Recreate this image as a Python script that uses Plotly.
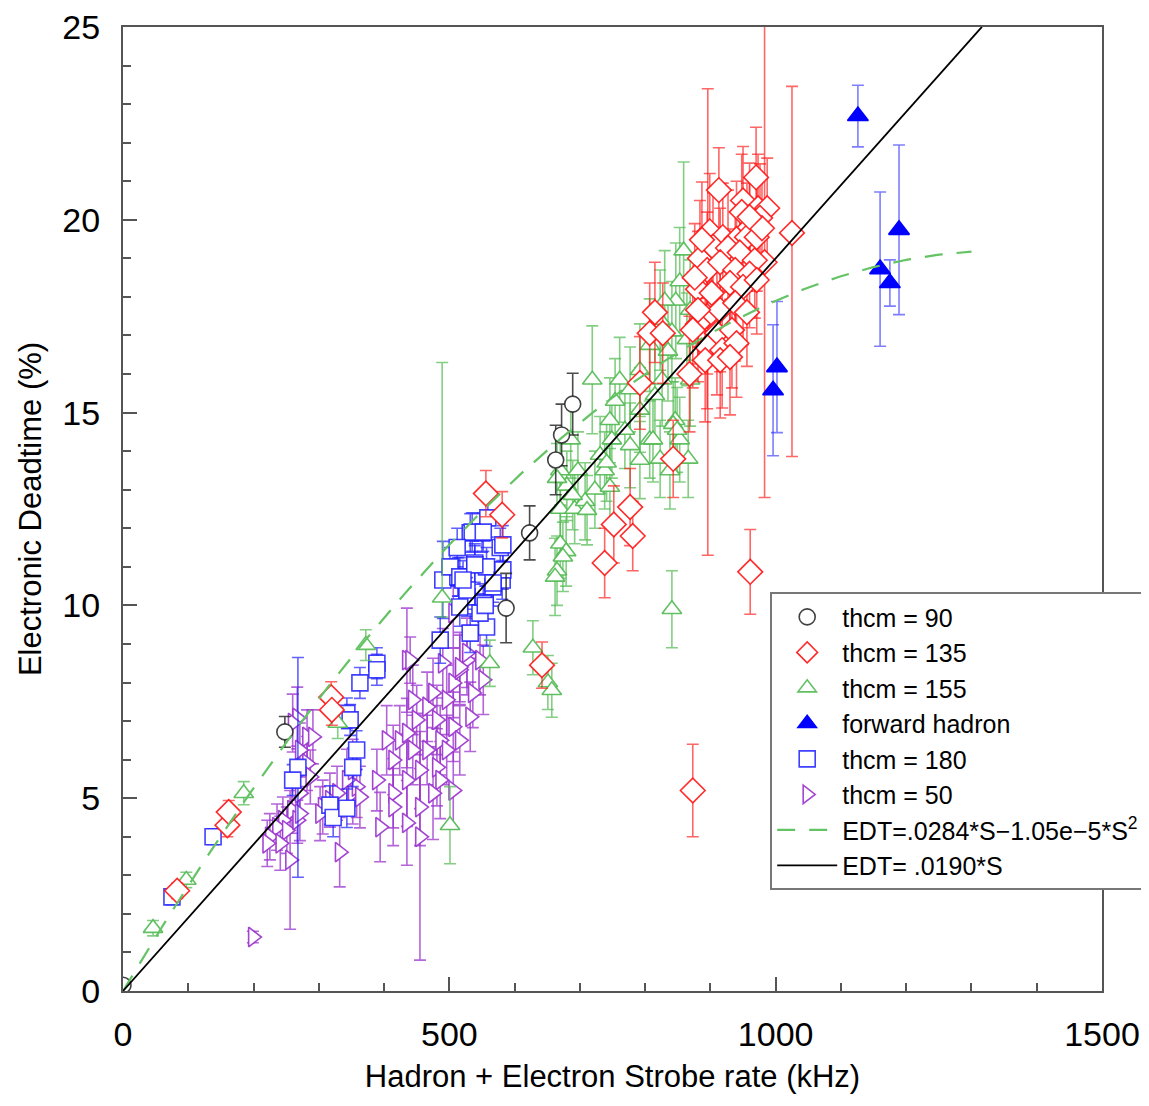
import numpy as np
import plotly.graph_objects as go

# ---------------- data ----------------
# thcm = 90 (black open circles)
x90 = [0, 248, 587, 623, 663, 672, 689]
y90 = [0.15, 6.72, 9.93, 11.88, 13.77, 14.42, 15.22]
e90 = [0.05, 0.4, 0.9, 0.7, 0.9, 0.8, 0.8]

# thcm = 135 (red open diamonds)
x135 = [83, 160, 162, 319, 320, 556, 581, 642, 738, 752, 777, 781, 843, 961, 873,
        1025, 983, 896, 807, 815, 827, 792, 868,
        913, 970, 950, 973, 987, 948, 960, 976, 899, 919, 940, 956, 884, 904, 927,
        945, 968, 895, 915, 938, 960, 881, 902, 930, 950, 971, 895, 915, 938, 956,
        881, 910, 933, 895, 918, 940, 892, 915, 930, 881, 873, 876, 887, 971, 979, 960]
y135 = [2.6, 4.3, 4.64, 7.62, 7.29, 12.9, 12.35, 8.45, 11.1, 12.1, 12.55, 11.8, 13.8, 10.87, 5.2,
        19.66, 18.9, 17.4, 17.06, 17.6, 17.06, 15.77, 16.0,
        20.77, 21.1, 20.5, 20.3, 20.3, 20.2, 19.8, 20.05, 19.7, 19.55, 19.5, 19.55, 19.0, 19.3, 19.27,
        19.15, 18.95, 18.7, 18.9, 18.7, 18.6, 18.2, 18.1, 18.36, 18.26, 18.44, 17.5, 17.66, 17.84, 17.6,
        17.3, 17.06, 17.14, 16.7, 16.62, 16.8, 16.36, 16.36, 16.44, 17.66, 17.14, 18.5, 19.48, 19.55, 19.78, 20.07]
e135_up = [0.2, 0.3, 0.3, 0.4, 0.4, 0.6, 0.6, 0.6, 0.9, 1.0, 1.0, 0.9, 1.0, 1.1, 1.2,
           3.8, 6.5, 6.0, 1.3, 1.3, 1.3, 1.2, 1.5,
           1.1, 1.3, 1.4, 1.4, 1.3, 1.5, 1.3, 1.4, 1.5, 1.4, 1.5, 1.4, 1.5, 1.4, 1.5,
           1.4, 1.5, 1.5, 1.4, 1.5, 1.4, 1.5, 1.5, 1.4, 1.5, 1.4, 1.5, 1.6, 1.5, 1.4,
           1.5, 1.6, 1.5, 1.6, 1.5, 1.4, 1.6, 1.5, 1.5, 1.4, 1.5, 1.4, 1.5, 1.4, 1.3, 1.4]
e135_dn = [0.2, 0.3, 0.3, 0.4, 0.4, 0.6, 0.6, 0.6, 0.9, 1.0, 1.0, 0.9, 1.0, 1.1, 1.2,
           5.8, 6.1, 6.1, 1.3, 1.3, 1.3, 1.2, 1.5,
           1.1, 1.3, 1.4, 1.4, 1.3, 1.5, 1.3, 1.4, 1.5, 1.4, 1.5, 1.4, 1.5, 1.4, 1.5,
           1.4, 1.5, 1.5, 1.4, 1.5, 1.4, 1.5, 1.5, 1.4, 1.5, 1.4, 1.5, 1.6, 1.5, 1.4,
           1.5, 1.6, 1.5, 1.6, 1.5, 1.4, 1.6, 1.5, 1.5, 1.4, 1.5, 1.4, 1.5, 1.4, 1.3, 1.4]

# thcm = 155 (green open triangles)
x155 = [46, 97, 185, 329, 372, 501, 489, 562, 628, 651, 657,
        670, 680, 670, 692, 670, 665, 679, 719, 731, 746, 754, 769, 777, 792, 807, 815,
        826, 835, 841, 847, 853, 859, 830, 823, 807, 792, 777, 761, 749, 738, 723, 708,
        697, 686, 846, 853, 866, 838, 823, 869, 869, 864, 841,
        662, 674, 665, 689, 711, 741, 746, 792, 812, 843, 849]
y155 = [1.63, 2.88, 5.13, 6.95, 8.97, 4.3, 10.2, 8.5, 8.9, 8.0, 7.8,
        13.5, 13.1, 12.5, 12.5, 11.6, 10.9, 11.4, 15.85, 13.9, 14.8, 15.3, 14.55, 14.15, 15.07, 14.3, 15.45,
        15.85, 16.6, 17.1, 17.9, 18.4, 19.2, 17.9, 17.4, 16.75, 16.1, 15.6, 15.85, 14.3, 13.5, 13.0, 12.7,
        13.5, 14.3, 14.8, 14.3, 13.8, 13.5, 13.8, 15.85, 17.66, 16.9, 9.9,
        10.74, 11.26, 13.3, 12.86, 12.47, 13.7, 13.07, 13.77, 14.3, 14.7, 14.55]
e155_up = [0.2, 0.2, 0.3, 0.4, 0.4, 1.0, 6.1, 0.6, 0.7, 0.7, 0.7,
           0.9, 0.9, 0.9, 0.9, 0.9, 0.9, 0.9, 1.4, 1.0, 1.1, 1.1, 1.0, 1.1, 1.1, 1.0, 1.2,
           1.2, 1.3, 1.3, 1.5, 1.4, 2.3, 1.3, 1.3, 1.2, 1.2, 1.1, 1.1, 1.0, 1.0, 1.0, 1.0,
           1.0, 1.0, 1.1, 1.1, 1.0, 1.0, 1.0, 1.2, 1.3, 1.2, 1.0,
           1.0, 0.9, 0.9, 0.9, 0.9, 1.0, 1.0, 1.0, 1.1, 1.1, 1.1]
e155_dn = [0.2, 0.2, 0.3, 0.4, 0.4, 1.0, 0.5, 0.6, 0.7, 0.7, 0.7,
           0.9, 0.9, 0.9, 0.9, 0.9, 0.9, 0.9, 1.4, 1.0, 1.1, 1.1, 1.0, 1.1, 1.1, 1.0, 1.2,
           1.2, 1.3, 1.3, 1.5, 1.4, 1.4, 1.3, 1.3, 1.2, 1.2, 1.1, 1.1, 1.0, 1.0, 1.0, 1.0,
           1.0, 1.0, 1.1, 1.1, 1.0, 1.0, 1.0, 1.2, 1.3, 1.2, 1.0,
           1.0, 0.9, 0.9, 0.9, 0.9, 1.0, 1.0, 1.0, 1.1, 1.1, 1.1]

# forward hadron (blue filled triangles)
xfh = [1126, 1160, 1175, 1189, 1002, 996]
yfh = [22.69, 18.72, 18.36, 19.74, 16.18, 15.58]
efh = [0.8, 2.0, 0.6, 2.2, 1.7, 1.7]

# thcm = 180 (blue open squares)
x180 = [75, 138, 268, 260, 317, 322, 343, 343, 348, 363, 389, 389, 358, 352,
        490, 513, 532, 550, 559, 539, 557, 578, 581, 567, 527, 552, 557, 532, 486,
        547, 516, 582, 501, 535, 552, 516, 539, 582, 567, 527, 555, 521, 512]
y180 = [2.44, 4.0, 5.8, 5.47, 4.82, 4.5, 4.74, 7.2, 7.03, 7.99, 8.5, 8.33, 6.25, 5.8,
        10.66, 10.74, 11.88, 11.88, 12.27, 11.1, 11.0, 11.5, 10.66, 10.48, 10.22, 10.06, 9.44, 9.28, 9.1,
        9.8, 9.96, 10.92, 11.0, 11.9, 11.9, 10.74, 11.05, 11.57, 10.58, 10.4, 10.0, 10.66, 11.5]
e180 = [0.2, 0.2, 2.85, 0.4, 0.5, 0.5, 0.5, 0.4, 0.4, 0.4, 0.4, 0.4, 0.5, 0.5,
        1.0, 0.5, 0.5, 0.5, 0.5, 0.5, 0.5, 0.5, 0.5, 0.5, 0.5, 0.5, 0.5, 0.5, 0.6,
        0.5, 0.5, 0.5, 0.5, 0.5, 0.5, 0.5, 0.5, 0.5, 0.5, 0.5, 0.5, 0.5, 0.5]

# thcm = 50 (purple open right-triangles)
x50 = [199, 267, 282, 291, 271, 282, 267, 287, 271, 259, 245, 236, 225, 251, 267, 241, 256, 221,
       271, 306, 302, 317, 328, 332, 352, 358, 343, 352, 363, 435, 389, 394, 414, 404, 424, 414,
       435, 444, 435, 455, 455, 435, 455, 450, 466, 481, 475, 496, 506, 516, 527, 536, 532, 506,
       486, 466, 496, 516, 481, 506, 486, 414, 475, 547, 552, 444, 440, 260, 506, 490, 516, 527]
y50 = [1.4, 7.08, 6.59, 6.59, 6.25, 5.9, 5.65, 5.55, 5.13, 4.69, 4.43, 4.25, 4.0, 4.17, 4.43, 3.83, 3.4, 3.83,
       4.6, 4.77, 4.6, 4.95, 5.13, 3.6, 5.13, 5.3, 5.47, 5.73, 5.03, 8.58, 5.47, 4.25, 5.13, 6.5, 6.5, 5.99,
       6.69, 6.25, 5.47, 5.73, 4.77, 4.36, 4.0, 7.03, 7.37, 7.03, 7.73, 7.55, 7.99, 8.33, 8.58, 7.73, 7.11, 6.85,
       6.5, 6.25, 6.25, 6.5, 5.8, 5.2, 5.47, 4.77, 5.13, 8.58, 8.07, 7.55, 8.58, 6.95, 9.8, 8.5, 8.4, 8.77]
e50 = [0.15, 0.8, 0.7, 0.7, 0.7, 0.7, 0.7, 0.7, 0.7, 0.6, 0.6, 0.6, 0.6, 0.6, 0.6, 0.7, 1.8, 0.6,
       0.7, 0.7, 0.7, 0.7, 0.7, 0.9, 0.8, 0.8, 0.8, 0.8, 0.8, 1.35, 0.8, 0.9, 0.9, 0.9, 0.9, 0.9,
       0.9, 0.9, 1.2, 1.0, 1.0, 1.1, 3.2, 0.9, 0.9, 0.9, 0.9, 0.9, 0.9, 0.9, 0.9, 0.9, 0.9, 0.9,
       0.9, 0.9, 0.9, 0.9, 1.0, 1.0, 1.0, 1.0, 1.2, 0.9, 0.9, 0.9, 0.6, 0.75, 0.9, 0.9, 0.9, 0.9]

# fit curves (from the legend formulas)
quad_a, quad_b, quad_smax = 0.0284, 1.05e-5, 1300
lin_a, lin_smax = 0.0190, 1316

x_ticks = [0, 500, 1000, 1500]
y_ticks = [0, 5, 10, 15, 20, 25]

# ---------------- figure ----------------
FONT = "Liberation Sans, Arial, Helvetica, sans-serif"
fig = go.Figure()


def add_series(name, x, y, eup, edn, symbol, lcolor, ecolor, size, rank, fill="white"):
    fig.add_trace(go.Scatter(
        x=x, y=y, mode="markers", name=name, legendrank=rank,
        marker=dict(symbol=symbol, size=size, color=fill,
                    line=dict(color=lcolor, width=1.6)),
        error_y=dict(type="data", array=eup, arrayminus=edn, symmetric=False,
                     color=ecolor, thickness=1.6, width=6),
    ))


add_series("thcm = 50", x50, y50, e50, e50, "triangle-right",
           "rgba(153,50,204,0.9)", "rgba(153,50,204,0.75)", 17, 6)
add_series("thcm = 180", x180, y180, e180, e180, "square",
           "rgba(30,30,255,0.85)", "rgba(30,30,255,0.7)", 16, 5)
add_series("thcm = 155", x155, y155, e155_up, e155_dn, "triangle-up",
           "rgba(80,185,80,0.9)", "rgba(80,185,80,0.7)", 17, 3)
add_series("thcm = 135", x135, y135, e135_up, e135_dn, "diamond",
           "rgba(255,20,20,0.9)", "rgba(255,20,20,0.65)", 19, 2)
add_series("forward hadron", xfh, yfh, efh, efh, "triangle-up",
           "#0000ff", "rgba(40,40,255,0.6)", 18, 4, fill="#0000ff")
add_series("thcm = 90", x90, y90, e90, e90, "circle",
           "rgba(30,30,30,0.85)", "rgba(30,30,30,0.8)", 16, 1)

sq = np.linspace(0, quad_smax, 200)
fig.add_trace(go.Scatter(
    x=sq, y=quad_a * sq - quad_b * sq ** 2, mode="lines", legendrank=7,
    name="EDT=.0284*S\u22121.05e\u22125*S<sup>2</sup>",
    line=dict(color="rgb(100,195,100)", width=2.2, dash="18px,14px"),
))
sl = np.linspace(0, lin_smax, 2)
fig.add_trace(go.Scatter(
    x=sl, y=lin_a * sl, mode="lines", legendrank=8,
    name="EDT= .0190*S",
    line=dict(color="black", width=1.8),
))

axis_common = dict(
    showline=True, linecolor="#555", linewidth=2, mirror=True,
    ticks="inside", ticklen=14, tickwidth=1.5, tickcolor="#555",
    showgrid=False, zeroline=False, automargin=False,
    ticklabeloverflow="allow",
    tickfont=dict(family=FONT, size=34, color="black"),
)

fig.update_layout(
    width=1141, height=1098,
    margin=dict(l=115, r=47, t=19, b=115, autoexpand=False),
    paper_bgcolor="white", plot_bgcolor="white",
    font=dict(family=FONT, color="black"),
    xaxis=dict(range=[0, 1500], tickvals=x_ticks, ticktext=[str(v) for v in x_ticks],
               minor=dict(ticks="inside", dtick=100, ticklen=8, tickcolor="#555"),
               title=dict(text="Hadron + Electron Strobe rate (kHz)",
                          font=dict(family=FONT, size=31), standoff=14),
               ticklabelstandoff=12, **axis_common),
    yaxis=dict(range=[0, 25], tickvals=y_ticks, ticktext=[str(v) for v in y_ticks],
               minor=dict(ticks="inside", dtick=1, ticklen=8, tickcolor="#555"),
               title=dict(text="Electronic Deadtime (%)",
                          font=dict(family=FONT, size=31), standoff=12),
               ticklabelstandoff=14, **axis_common),
    legend=dict(xref="container", yref="container", x=0.668, y=0.468,
                xanchor="left", yanchor="top",
                bgcolor="white", bordercolor="#777", borderwidth=2,
                font=dict(family=FONT, size=25, color="black"),
                itemwidth=60, tracegroupgap=0),
    showlegend=True,
)

fig.write_html("out.html")
